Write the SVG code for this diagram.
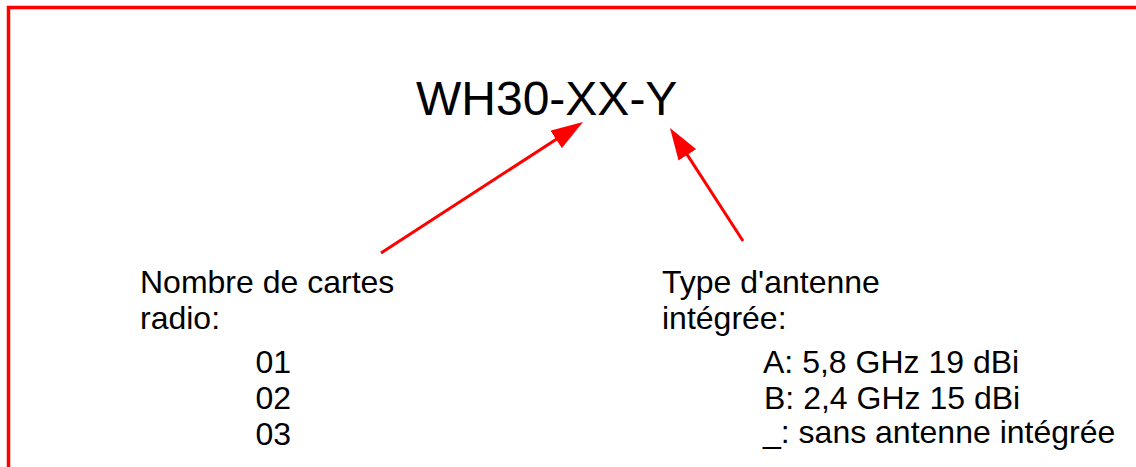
<svg xmlns="http://www.w3.org/2000/svg" width="1136" height="467" viewBox="0 0 1136 467">
  <style>
    text { font-family: "Liberation Sans", Arial, sans-serif; fill: #000; }
    .title { font-size: 48px; }
    .lbl { font-size: 32px; }
    .conn { stroke: #ff0000; stroke-width: 3; fill: none; }
  </style>
  <defs>
    <marker id="arrow" markerUnits="userSpaceOnUse" viewBox="0 0 32 21" markerWidth="32" markerHeight="21" refX="20" refY="10.5" orient="auto">
      <path d="M0,0 L32,10.5 L0,21 z" fill="#ff0000"/>
    </marker>
  </defs>
  <rect width="1136" height="467" fill="#ffffff"/>
  <rect id="frame" x="8.5" y="7.5" width="1140" height="480" fill="none" stroke="#ff0000" stroke-width="3.5"/>
  <g id="title">
    <text class="title" x="416" y="115">WH30-XX-Y</text>
  </g>
  <g id="cards">
    <text class="lbl" x="140" y="293">Nombre de cartes</text>
    <text class="lbl" x="140" y="329">radio:</text>
    <text class="lbl" x="255.5" y="373">01</text>
    <text class="lbl" x="255.5" y="409">02</text>
    <text class="lbl" x="255.5" y="445">03</text>
  </g>
  <g id="antenna">
    <text class="lbl" x="662" y="293">Type d'antenne</text>
    <text class="lbl" x="662" y="329">intégrée:</text>
    <text class="lbl" x="763" y="373">A: 5,8 GHz 19 dBi</text>
    <text class="lbl" x="764" y="409">B: 2,4 GHz 15 dBi</text>
    <text class="lbl" x="763" y="443">_: sans antenne intégrée</text>
  </g>
  <g id="connectors">
    <line class="conn" x1="381" y1="253" x2="572.9" y2="128.5" marker-end="url(#arrow)"/>
    <line class="conn" x1="743" y1="241" x2="676.5" y2="138.1" marker-end="url(#arrow)"/>
  </g>
</svg>
